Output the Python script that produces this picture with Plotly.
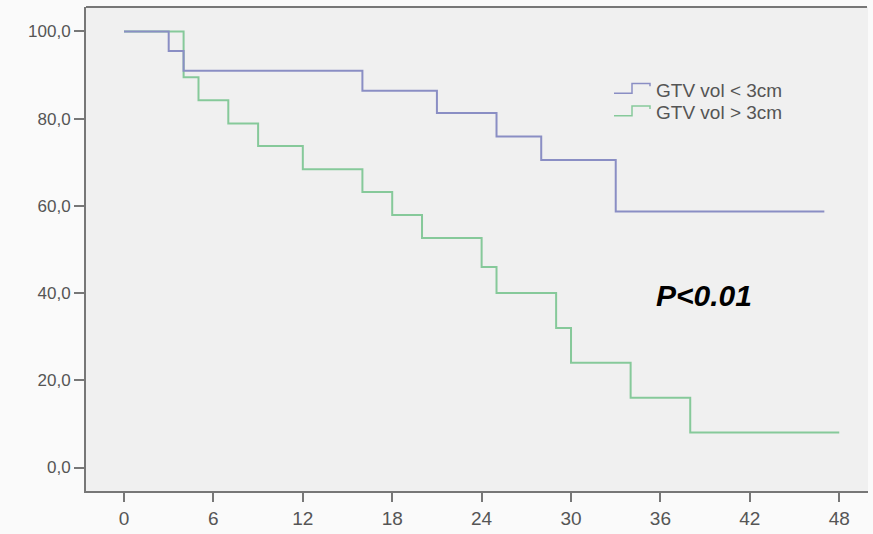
import plotly.graph_objects as go

# Kaplan-Meier style survival data (months, %)
blue_name = "GTV vol < 3cm"
blue_t = [0, 3, 4, 16, 21, 25, 28, 33, 47]
blue_s = [100, 95.5, 91.0, 86.4, 81.3, 75.9, 70.5, 58.7, 58.7]

green_name = "GTV vol > 3cm"
green_t = [0, 4, 5, 7, 9, 12, 16, 18, 20, 24, 25, 29, 30, 34, 38, 48]
green_s = [100, 89.5, 84.2, 78.9, 73.7, 68.4, 63.2, 57.9, 52.6, 46.0, 40.0, 32.0, 24.0, 16.0, 8.0, 8.0]

x_ticks = [0, 6, 12, 18, 24, 30, 36, 42, 48]
y_ticks = [0, 20, 40, 60, 80, 100]
y_tick_labels = ["0,0", "20,0", "40,0", "60,0", "80,0", "100,0"]

p_text = "P<0.01"

BLUE = "#8a8ec4"
GREEN = "#86c99a"
AXIS = "#777777"
TEXT = "#555555"

W, H = 873, 534
ML, MR, MT, MB = 86, 5, 7, 33
PW, PH = W - ML - MR, H - MT - MB


def px_to_paper(px, py):
    return (px - ML) / PW, (H - MB - py) / PH


fig = go.Figure()
fig.add_trace(go.Scatter(
    x=green_t, y=green_s, mode="lines", name=green_name,
    line=dict(shape="hv", color=GREEN, width=2), showlegend=False,
))
fig.add_trace(go.Scatter(
    x=blue_t, y=blue_s, mode="lines", name=blue_name,
    line=dict(shape="hv", color=BLUE, width=2), showlegend=False,
))

fig.add_annotation(
    x=38.9, y=39.5, xref="x", yref="y", text="<b><i>" + p_text + "</i></b>",
    showarrow=False, font=dict(family="Liberation Sans, Arial", size=30, color="#000000"),
)

# Custom legend with step-shaped keys (SPSS style)
shapes = []
row_y = [92, 115]
for (name, col), ry in zip([(blue_name, BLUE), (green_name, GREEN)], row_y):
    pts = [(614, ry + 3), (632, ry + 3), (632, ry - 7), (650, ry - 7), (650, ry - 4)]
    path = ""
    for j, (px, py) in enumerate(pts):
        xp, yp = px_to_paper(px, py)
        path += ("M" if j == 0 else "L") + f"{xp:.5f},{yp:.5f} "
    shapes.append(dict(type="path", xref="paper", yref="paper", path=path.strip(),
                       line=dict(color=col, width=1.5)))
    tx, ty = px_to_paper(655, ry)
    fig.add_annotation(x=tx, y=ty, xref="paper", yref="paper", text=name,
                       xanchor="left", yanchor="middle", showarrow=False, borderpad=0,
                       font=dict(family="Liberation Sans, Arial", size=19, color=TEXT))

# top frame line (no right border in reference)
shapes.append(dict(type="line", xref="paper", yref="paper", x0=0, x1=(867 - ML) / PW, y0=1, y1=1,
                   line=dict(color=AXIS, width=2)))

fig.update_layout(
    width=W, height=H,
    margin=dict(l=ML, r=MR, t=MT, b=MB),
    paper_bgcolor="#fafafa",
    plot_bgcolor="#f0f0f0",
    font=dict(family="Liberation Sans, Arial", color=TEXT),
    showlegend=False,
    shapes=shapes,
    xaxis=dict(
        range=[-2.55, 49.93], tickmode="array", tickvals=x_ticks,
        ticks="outside", ticklen=9, tickwidth=2, tickcolor=AXIS,
        showline=True, linecolor=AXIS, linewidth=2,
        showgrid=False, zeroline=False,
        tickfont=dict(size=19, color=TEXT),
    ),
    yaxis=dict(
        range=[-5.39, 105.6], tickmode="array", tickvals=y_ticks, ticktext=y_tick_labels,
        ticks="outside", ticklen=10, tickwidth=2, tickcolor=AXIS,
        showline=True, linecolor=AXIS, linewidth=2,
        showgrid=False, zeroline=False,
        tickfont=dict(size=17, color=TEXT),
    ),
)

fig.write_html("out.html")
